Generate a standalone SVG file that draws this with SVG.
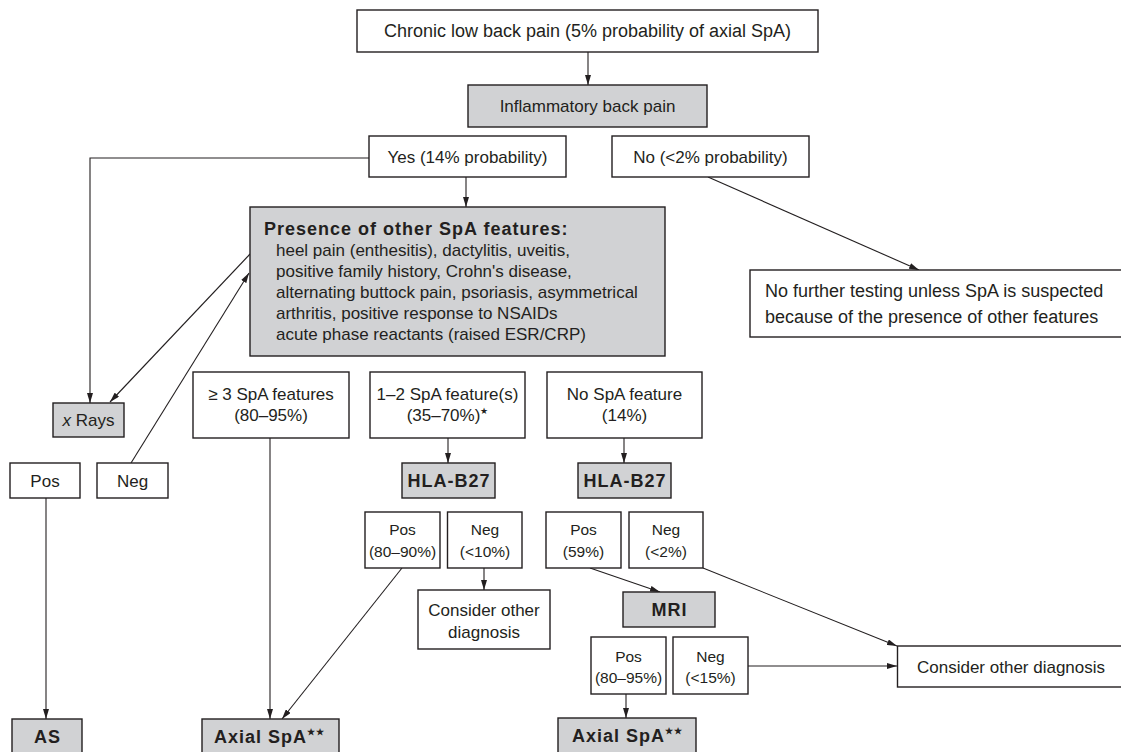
<svg xmlns="http://www.w3.org/2000/svg" width="1121" height="752" viewBox="0 0 1121 752">
<defs>
<marker id="ah" viewBox="0 0 10 6" refX="10" refY="3" markerWidth="10" markerHeight="6" markerUnits="userSpaceOnUse" orient="auto">
<path d="M0,0 L10,3 L0,6 z" fill="#231f20"/>
</marker>
<style>
rect{fill:#ffffff;stroke:#231f20;stroke-width:1.4}
rect.g{fill:#d1d2d4}
text{font-family:"Liberation Sans",Arial,sans-serif;font-size:17px;fill:#231f20}
.c{text-anchor:middle}
.b{font-weight:700;font-size:18px;letter-spacing:1px}
.s{font-size:15.5px}
.l{font-size:18px}
#connectors line,#connectors polyline{stroke:#231f20;stroke-width:1.1;fill:none}
.a{marker-end:url(#ah)}
</style>
</defs>
<rect x="0" y="0" width="1121" height="752" style="fill:#ffffff;stroke:none"/>
<g id="connectors">
<line class="a" x1="588" y1="52" x2="588" y2="85"/>
<polyline class="a" points="369,158 90,158 90,403"/>
<line class="a" x1="466" y1="177" x2="466" y2="207"/>
<line class="a" x1="708" y1="177" x2="919" y2="270"/>
<line class="a" x1="250" y1="254" x2="110" y2="402"/>
<line class="a" x1="131" y1="463" x2="249" y2="273"/>
<line class="a" x1="448" y1="438" x2="448" y2="463"/>
<line class="a" x1="624" y1="438" x2="624" y2="463"/>
<line class="a" x1="46" y1="498" x2="46" y2="719"/>
<line class="a" x1="270" y1="438" x2="270" y2="719"/>
<line class="a" x1="402" y1="568" x2="282" y2="719"/>
<line class="a" x1="484" y1="568" x2="484" y2="590"/>
<line class="a" x1="590" y1="568" x2="660" y2="592"/>
<line class="a" x1="703" y1="568" x2="897" y2="646"/>
<line class="a" x1="748" y1="666" x2="897" y2="666"/>
<line class="a" x1="626" y1="694" x2="626" y2="718"/>
</g>
<g id="n-top"><rect x="357" y="10" width="461" height="42"/><text class="c l" x="587.5" y="37">Chronic low back pain (5% probability of axial SpA)</text></g>
<g id="n-ibp"><rect class="g" x="468" y="85" width="239" height="42"/><text class="c" x="587.5" y="112">Inflammatory back pain</text></g>
<g id="n-yes"><rect x="369" y="136" width="197" height="41"/><text class="c" x="467.5" y="163">Yes (14% probability)</text></g>
<g id="n-no"><rect x="612" y="136" width="197" height="41"/><text class="c" x="710.5" y="163">No (&lt;2% probability)</text></g>
<g id="n-features"><rect class="g" x="250" y="207" width="415" height="149"/>
<text class="b" x="264" y="235">Presence of other SpA features:</text>
<text x="276" y="256">heel pain (enthesitis), dactylitis, uveitis,</text>
<text x="276" y="277">positive family history, Crohn's disease,</text>
<text x="276" y="298">alternating buttock pain, psoriasis, asymmetrical</text>
<text x="276" y="319">arthritis, positive response to NSAIDs</text>
<text x="276" y="340">acute phase reactants (raised ESR/CRP)</text>
</g>
<g id="n-nofurther"><rect x="750" y="270" width="380" height="67"/>
<text class="l" x="765" y="297">No further testing unless SpA is suspected</text>
<text class="l" x="765" y="323">because of the presence of other features</text></g>
<g id="n-xrays"><rect class="g" x="53" y="403" width="71" height="34"/><text class="c" x="88.5" y="426"><tspan font-style="italic">x</tspan> Rays</text></g>
<g id="n-3f"><rect x="193" y="372" width="156" height="66"/><text class="c" x="271" y="400">≥ 3 SpA features</text><text class="c" x="271" y="421">(80–95%)</text></g>
<g id="n-12f"><rect x="370" y="372" width="155" height="66"/><text class="c" x="447.5" y="400">1–2 SpA feature(s)</text><text class="c" x="447.5" y="421">(35–70%)<tspan font-size="9" dy="-7">★</tspan></text></g>
<g id="n-0f"><rect x="547" y="372" width="155" height="66"/><text class="c" x="624.5" y="400">No SpA feature</text><text class="c" x="624.5" y="421">(14%)</text></g>
<g id="n-pos1"><rect x="10" y="463" width="70" height="35"/><text class="c" x="45" y="487">Pos</text></g>
<g id="n-neg1"><rect x="97" y="463" width="71" height="35"/><text class="c" x="132.5" y="487">Neg</text></g>
<g id="n-hla1"><rect class="g" x="402" y="463" width="93" height="35"/><text class="c b" x="449" y="487">HLA-B27</text></g>
<g id="n-hla2"><rect class="g" x="578" y="463" width="93" height="35"/><text class="c b" x="625" y="487">HLA-B27</text></g>
<g id="n-pos2"><rect x="365" y="512" width="75" height="56"/><text class="c s" x="402.5" y="535">Pos</text><text class="c s" x="402.5" y="557">(80–90%)</text></g>
<g id="n-neg2"><rect x="447.5" y="512" width="74.5" height="56"/><text class="c s" x="485" y="535">Neg</text><text class="c s" x="485" y="557">(&lt;10%)</text></g>
<g id="n-pos3"><rect x="546" y="512" width="75" height="56"/><text class="c s" x="583.5" y="535">Pos</text><text class="c s" x="583.5" y="557">(59%)</text></g>
<g id="n-neg3"><rect x="629" y="512" width="74" height="56"/><text class="c s" x="666" y="535">Neg</text><text class="c s" x="666" y="557">(&lt;2%)</text></g>
<g id="n-cod1"><rect x="418" y="590" width="132" height="59"/><text class="c" x="484" y="616">Consider other</text><text class="c" x="484" y="638">diagnosis</text></g>
<g id="n-mri"><rect class="g" x="623" y="592" width="92" height="35"/><text class="c b" x="669.5" y="616">MRI</text></g>
<g id="n-pos4"><rect x="591" y="637" width="75" height="57"/><text class="c s" x="628.5" y="662">Pos</text><text class="c s" x="628.5" y="683">(80–95%)</text></g>
<g id="n-neg4"><rect x="673" y="637" width="75" height="57"/><text class="c s" x="710.5" y="662">Neg</text><text class="c s" x="710.5" y="683">(&lt;15%)</text></g>
<g id="n-cod2"><rect x="897.5" y="646" width="240" height="41"/><text x="917" y="673">Consider other diagnosis</text></g>
<g id="n-as"><rect class="g" x="12" y="719" width="70" height="45"/><text class="c b" x="47.5" y="743">AS</text></g>
<g id="n-axial1"><rect class="g" x="202" y="719" width="137" height="45"/><text class="b" x="214" y="743">Axial SpA<tspan font-size="9" dy="-8">★★</tspan></text></g>
<g id="n-axial2"><rect class="g" x="558" y="718" width="138" height="46"/><text class="b" x="572" y="742">Axial SpA<tspan font-size="9" dy="-8">★★</tspan></text></g>
</svg>
